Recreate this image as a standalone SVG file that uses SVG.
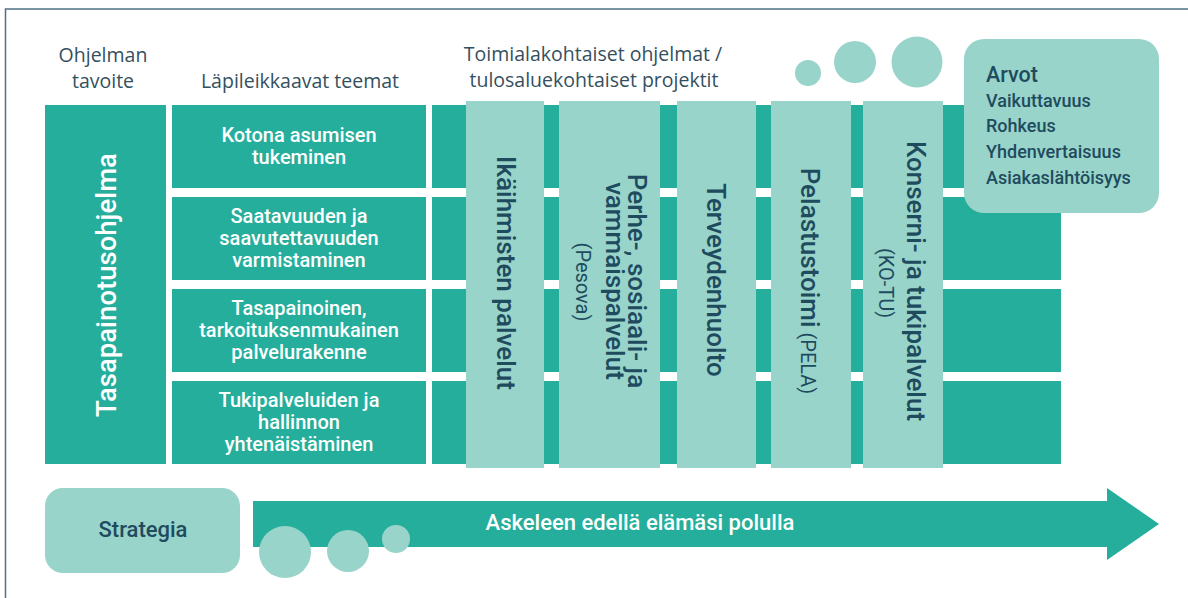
<svg xmlns="http://www.w3.org/2000/svg" width="1188" height="598" viewBox="0 0 1188 598">
<style>
.dk{fill:#24ae9b}
.lt{fill:#98d4ca}
.hdr{font-family:"Open Sans","Noto Sans",sans-serif;font-size:19.5px;fill:#34505e;text-anchor:middle}
.th{font-family:Roboto,"Liberation Sans",sans-serif;font-size:20px;font-weight:500;fill:#ffffff;text-anchor:middle}
.col{font-family:Roboto,"Liberation Sans",sans-serif;font-size:26px;font-weight:500;fill:#1f4b5e;text-anchor:middle}
.sm{font-family:Roboto,"Liberation Sans",sans-serif;font-size:20px;font-weight:400;fill:#1f4b5e;text-anchor:middle}
.val{font-family:Roboto,"Liberation Sans",sans-serif;font-size:18px;font-weight:500;fill:#1f4b5e}
</style>
<rect x="0" y="0" width="1188" height="598" fill="#ffffff"/>
<rect x="5.5" y="9" width="1300" height="700" fill="none" stroke="#4f7282" stroke-width="1.5"/>

<g id="headers">
<text class="hdr" x="103" y="62">Ohjelman</text>
<text class="hdr" x="103" y="88">tavoite</text>
<text class="hdr" x="300" y="88">Läpileikkaavat teemat</text>
<text class="hdr" x="593" y="61">Toimialakohtaiset ohjelmat /</text>
<text class="hdr" x="594" y="87">tulosaluekohtaiset projektit</text>
</g>

<g id="goal">
<rect class="dk" x="45" y="105" width="121" height="359"/>
<text class="th" style="font-size:27.5px" transform="translate(116,285) rotate(-90)">Tasapainotusohjelma</text>
</g>

<g id="grid">
<rect class="dk" x="432" y="105" width="629" height="83"/>
<rect class="dk" x="432" y="197" width="629" height="83"/>
<rect class="dk" x="432" y="289" width="629" height="83"/>
<rect class="dk" x="432" y="381" width="629" height="83"/>
</g>

<g id="theme1">
<rect class="dk" x="172" y="105" width="254" height="83"/>
<text class="th" x="299" y="142">Kotona asumisen</text>
<text class="th" x="299" y="164">tukeminen</text>
</g>
<g id="theme2">
<rect class="dk" x="172" y="197" width="254" height="83"/>
<text class="th" x="299" y="223">Saatavuuden ja</text>
<text class="th" x="299" y="245">saavutettavuuden</text>
<text class="th" x="299" y="267">varmistaminen</text>
</g>
<g id="theme3">
<rect class="dk" x="172" y="289" width="254" height="83"/>
<text class="th" x="299" y="315">Tasapainoinen,</text>
<text class="th" x="299" y="337">tarkoituksenmukainen</text>
<text class="th" x="299" y="359">palvelurakenne</text>
</g>
<g id="theme4">
<rect class="dk" x="172" y="381" width="254" height="83"/>
<text class="th" x="299" y="407">Tukipalveluiden ja</text>
<text class="th" x="299" y="429">hallinnon</text>
<text class="th" x="299" y="451">yhtenäistäminen</text>
</g>

<g id="col-ikaihmiset">
<rect class="lt" x="466" y="101" width="78" height="367"/>
<text class="col" transform="translate(497,273) rotate(90)">Ikäihmisten palvelut</text>
</g>
<g id="col-pesova">
<rect class="lt" x="559" y="101" width="101" height="367"/>
<text class="col" transform="translate(628,281) rotate(90)">Perhe-, sosiaali- ja</text>
<text class="col" transform="translate(606,281) rotate(90)">vammaispalvelut</text>
<text class="sm" transform="translate(576,282) rotate(90)">(Pesova)</text>
</g>
<g id="col-terveys">
<rect class="lt" x="677" y="101" width="79" height="367"/>
<text class="col" transform="translate(707,280) rotate(90)">Terveydenhuolto</text>
</g>
<g id="col-pela">
<rect class="lt" x="771" y="101" width="80" height="367"/>
<text class="col" transform="translate(801,281) rotate(90)">Pelastustoimi<tspan style="font-size:20px;font-weight:400"> (PELA)</tspan></text>
</g>
<g id="col-kotu">
<rect class="lt" x="863" y="101" width="80" height="367"/>
<text class="col" transform="translate(907,281) rotate(90)">Konserni- ja tukipalvelut</text>
<text class="sm" transform="translate(879,283) rotate(90)">(KO-TU)</text>
</g>

<g id="bubbles-top">
<circle class="lt" cx="808" cy="73" r="13"/>
<circle class="lt" cx="855" cy="62" r="21"/>
<circle class="lt" cx="917" cy="62" r="25.5"/>
</g>

<g id="arvot">
<rect class="lt" x="964" y="39" width="195" height="174" rx="20"/>
<text class="val" x="986" y="82" style="font-size:21.5px">Arvot</text>
<text class="val" x="986" y="107">Vaikuttavuus</text>
<text class="val" x="986" y="132">Rohkeus</text>
<text class="val" x="986" y="158">Yhdenvertaisuus</text>
<text class="val" x="986" y="184">Asiakaslähtöisyys</text>
</g>

<g id="strategia">
<rect class="lt" x="45" y="488" width="195" height="85" rx="18"/>
<text class="col" x="143" y="537" style="font-size:22px">Strategia</text>
</g>

<g id="connectors">
<g id="arrow">
<path class="dk" d="M253,501 H1107 V488 L1159,524 L1107,560 V547 H253 Z"/>
<text class="th" x="640" y="530" style="font-size:22px">Askeleen edellä elämäsi polulla</text>
</g>
</g>

<g id="bubbles-bottom">
<circle class="lt" cx="285" cy="552" r="26"/>
<circle class="lt" cx="348" cy="551" r="21"/>
<circle class="lt" cx="396" cy="539" r="14"/>
</g>
</svg>
